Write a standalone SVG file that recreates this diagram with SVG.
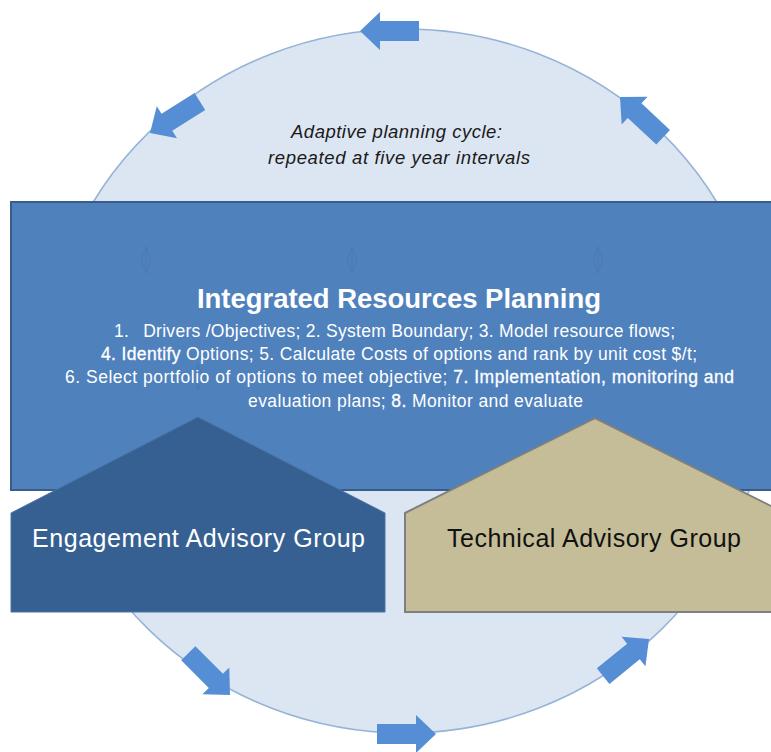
<svg xmlns="http://www.w3.org/2000/svg" width="771" height="752" viewBox="0 0 771 752">
<style>
.cyc{fill:#dce6f2;stroke:#95b3d7;stroke-width:1.5}
.arr{fill:#558ed5}
.faint{fill:none;stroke:#4675ad;stroke-width:1;opacity:0.55}
.box{fill:#4f81bd;stroke:#385d8a;stroke-width:2}
.eag{fill:#376092;stroke:#4a73a6;stroke-width:1}
.tag{fill:#c4bd97;stroke:#7f7f7f;stroke-width:2}
.t{font-family:"Liberation Sans",Arial,sans-serif}
.cap{font-style:italic;font-size:18.5px;fill:#1a1a1a}
.title{font-weight:bold;font-size:27.5px;fill:#ffffff}
.body{font-size:17.5px;fill:#ffffff}
.em{stroke:#ffffff;stroke-width:0.3}
.lab{font-size:25px}
</style>
<defs>
<polygon id="blk" points="0,0 -20,-19 -20,-10 -59,-10 -59,10 -20,10 -20,19"/>
<path id="dbl" d="M0,-13 L-5,0 L0,13 L5,0 Z M0,-13 V13"/>
</defs>
<g id="cycle">
<ellipse class="cyc" cx="405" cy="381" rx="362" ry="352"/>
<text class="t cap" x="291" y="138" textLength="211">Adaptive planning cycle:</text>
<text class="t cap" x="268" y="164" textLength="262">repeated at five year intervals</text>
</g>
<g id="connectors">
<use href="#blk" class="arr" transform="translate(360,31) rotate(180)"/>
<use href="#blk" class="arr" transform="translate(150,133) rotate(147.7)"/>
<use href="#blk" class="arr" transform="translate(620,97) rotate(-137)"/>
<use href="#blk" class="arr" transform="translate(230,695) rotate(45)"/>
<use href="#blk" class="arr" transform="translate(436,734)"/>
<use href="#blk" class="arr" transform="translate(649,639) rotate(-39)"/>
</g>
<g id="irp">
<rect class="box" x="11" y="202" width="775" height="288"/>
<use href="#dbl" class="faint" transform="translate(146,260)"/>
<use href="#dbl" class="faint" transform="translate(352,260)"/>
<use href="#dbl" class="faint" transform="translate(598,260)"/>
<use href="#dbl" class="faint" transform="translate(198,377)"/>
<use href="#dbl" class="faint" transform="translate(443,377)"/>
<text class="t title" x="197" y="308" textLength="404">Integrated Resources Planning</text>
<text class="t body" x="114" y="337" textLength="561">1.<tspan dx="14">Drivers /Objectives; 2. System Boundary; 3. Model resource flows;</tspan></text>
<text class="t body" x="101" y="360" textLength="596"><tspan class="em">4. Identify</tspan> Options; 5. Calculate Costs of options and rank by unit cost $/t;</text>
<text class="t body" x="65" y="383" textLength="669">6. Select portfolio of options to meet objective; <tspan class="em">7. Implementation, monitoring and</tspan></text>
<text class="t body" x="248" y="407" textLength="335">evaluation plans; <tspan class="em">8.</tspan> Monitor and evaluate</text>
</g>
<g id="eag">
<polygon class="eag" points="11,513 198,417 385,513 385,612 11,612"/>
<text class="t lab" x="32" y="547" textLength="333" fill="#ffffff">Engagement Advisory Group</text>
</g>
<g id="tag">
<polygon class="tag" points="405,513 595,418 785,513 785,612 405,612"/>
<text class="t lab" x="447" y="547" textLength="294" fill="#111111">Technical Advisory Group</text>
</g>
</svg>
